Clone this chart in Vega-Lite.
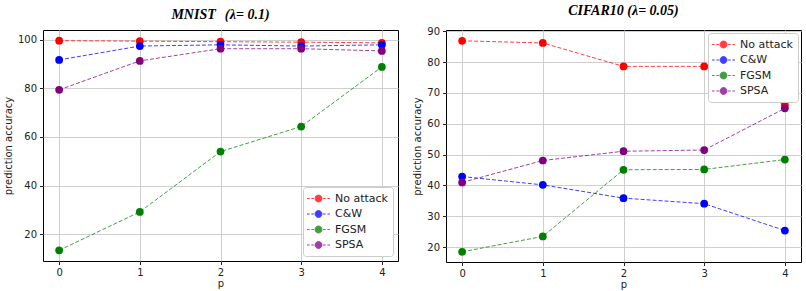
{
  "$schema": "https://vega.github.io/schema/vega-lite/v6.json",
  "padding": {"left": 2, "top": 3, "right": 3, "bottom": 4},
  "background": "white",
  "spacing": 13,
  "datasets": {
    "mnist": [
      {"p": 0, "attack": "No attack", "accuracy": 99.6},
      {"p": 1, "attack": "No attack", "accuracy": 99.4},
      {"p": 2, "attack": "No attack", "accuracy": 99.2},
      {"p": 3, "attack": "No attack", "accuracy": 99.0},
      {"p": 4, "attack": "No attack", "accuracy": 98.7},
      {"p": 0, "attack": "C&W", "accuracy": 91.7},
      {"p": 1, "attack": "C&W", "accuracy": 97.4},
      {"p": 2, "attack": "C&W", "accuracy": 97.9},
      {"p": 3, "attack": "C&W", "accuracy": 97.4},
      {"p": 4, "attack": "C&W", "accuracy": 97.9},
      {"p": 0, "attack": "FGSM", "accuracy": 13.4},
      {"p": 1, "attack": "FGSM", "accuracy": 29.2},
      {"p": 2, "attack": "FGSM", "accuracy": 54.0},
      {"p": 3, "attack": "FGSM", "accuracy": 64.3},
      {"p": 4, "attack": "FGSM", "accuracy": 88.8},
      {"p": 0, "attack": "SPSA", "accuracy": 79.4},
      {"p": 1, "attack": "SPSA", "accuracy": 91.3},
      {"p": 2, "attack": "SPSA", "accuracy": 96.3},
      {"p": 3, "attack": "SPSA", "accuracy": 96.3},
      {"p": 4, "attack": "SPSA", "accuracy": 95.4}
    ],
    "cifar": [
      {"p": 0, "attack": "No attack", "accuracy": 86.9},
      {"p": 1, "attack": "No attack", "accuracy": 86.2},
      {"p": 2, "attack": "No attack", "accuracy": 78.6},
      {"p": 3, "attack": "No attack", "accuracy": 78.6},
      {"p": 4, "attack": "No attack", "accuracy": 66.1},
      {"p": 0, "attack": "C&W", "accuracy": 42.9},
      {"p": 1, "attack": "C&W", "accuracy": 40.2},
      {"p": 2, "attack": "C&W", "accuracy": 35.9},
      {"p": 3, "attack": "C&W", "accuracy": 34.1},
      {"p": 4, "attack": "C&W", "accuracy": 25.4},
      {"p": 0, "attack": "FGSM", "accuracy": 18.5},
      {"p": 1, "attack": "FGSM", "accuracy": 23.5},
      {"p": 2, "attack": "FGSM", "accuracy": 45.1},
      {"p": 3, "attack": "FGSM", "accuracy": 45.2},
      {"p": 4, "attack": "FGSM", "accuracy": 48.4},
      {"p": 0, "attack": "SPSA", "accuracy": 41.0},
      {"p": 1, "attack": "SPSA", "accuracy": 48.1},
      {"p": 2, "attack": "SPSA", "accuracy": 51.1},
      {"p": 3, "attack": "SPSA", "accuracy": 51.5},
      {"p": 4, "attack": "SPSA", "accuracy": 65.0}
    ]
  },
  "config": {
    "font": "DejaVu Sans",
    "view": {"stroke": "#000000", "strokeWidth": 1},
    "axis": {
      "labelFont": "DejaVu Sans", "labelFontSize": 10, "labelColor": "#222222",
      "titleFont": "DejaVu Sans", "titleFontSize": 10, "titleFontWeight": "normal", "titleColor": "#222222",
      "gridColor": "#cfcfcf", "gridWidth": 1, "domain": false,
      "tickColor": "#222222", "tickSize": 3.5, "labelPadding": 3
    },
    "title": {"font": "Liberation Serif", "fontSize": 14, "fontStyle": "italic", "fontWeight": "bold", "color": "#000000", "anchor": "middle", "offset": 8},
    "legend": {
      "labelFont": "DejaVu Sans", "labelFontSize": 11, "labelColor": "#222222",
      "strokeColor": "#cccccc", "fillColor": "white", "padding": 5, "cornerRadius": 3,
      "symbolType": "M-2,0H-1.55M-1.25,0H-0.8M0.8,0H1.25M1.55,0H2M-0.6,0A0.6,0.6 0 1,1 0.6,0A0.6,0.6 0 1,1 -0.6,0Z",
      "symbolSize": 132, "symbolStrokeWidth": 1, "labelOffset": 10, "rowPadding": 3.5,
      "symbolOffset": 4, "offset": 5
    }
  },
  "hconcat": [
    {
      "width": 355, "height": 231,
      "title": {"text": "MNIST（λ= 0.1)"},
      "data": {"name": "mnist"},
      "encoding": {
        "x": {"field": "p", "type": "quantitative", "title": "p", "scale": {"domain": [-0.2, 4.2], "nice": false, "zero": false}, "axis": {"values": [0, 1, 2, 3, 4], "format": "d", "titlePadding": 1}},
        "y": {"field": "accuracy", "type": "quantitative", "title": "prediction accuracy", "scale": {"domain": [9, 104], "nice": false, "zero": false}, "axis": {"values": [20, 40, 60, 80, 100], "titlePadding": 4}},
        "color": {"field": "attack", "type": "nominal", "scale": {"domain": ["No attack", "C&W", "FGSM", "SPSA"], "range": ["#ff0000", "#0000ff", "#008000", "#800080"]}, "legend": {"title": null, "orient": "bottom-right"}}
      },
      "layer": [
        {"mark": {"type": "line", "strokeDash": [4, 2], "strokeWidth": 1, "opacity": 0.75}},
        {"mark": {"type": "point", "filled": true, "size": 60, "opacity": 1}}
      ]
    },
    {
      "width": 355, "height": 232,
      "title": {"text": "CIFAR10 (λ= 0.05)"},
      "data": {"name": "cifar"},
      "encoding": {
        "x": {"field": "p", "type": "quantitative", "title": "p", "scale": {"domain": [-0.2, 4.2], "nice": false, "zero": false}, "axis": {"values": [0, 1, 2, 3, 4], "format": "d", "titlePadding": 1}},
        "y": {"field": "accuracy", "type": "quantitative", "title": "prediction accuracy", "scale": {"domain": [15.2, 90.4], "nice": false, "zero": false}, "axis": {"values": [20, 30, 40, 50, 60, 70, 80, 90], "titlePadding": 4}},
        "color": {"field": "attack", "type": "nominal", "scale": {"domain": ["No attack", "C&W", "FGSM", "SPSA"], "range": ["#ff0000", "#0000ff", "#008000", "#800080"]}, "legend": {"title": null, "orient": "top-right", "offset": 3}}
      },
      "layer": [
        {"mark": {"type": "line", "strokeDash": [4, 2], "strokeWidth": 1, "opacity": 0.75}},
        {"mark": {"type": "point", "filled": true, "size": 60, "opacity": 1}}
      ]
    }
  ],
  "resolve": {"scale": {"color": "independent"}, "legend": {"color": "independent"}}
}
